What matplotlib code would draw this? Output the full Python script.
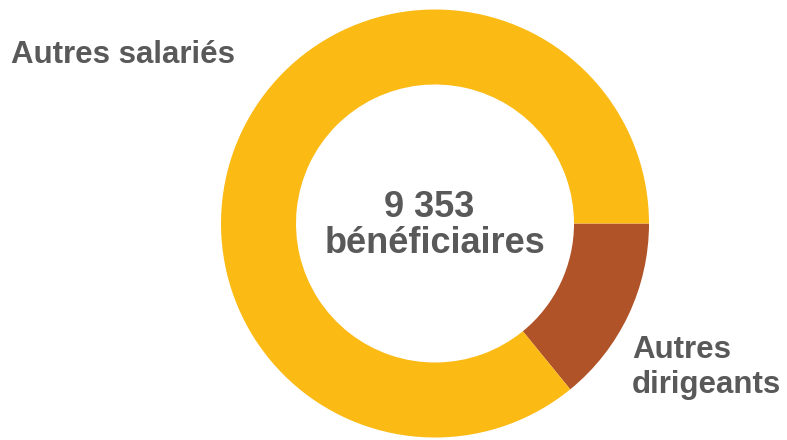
import matplotlib.pyplot as plt

# Data
labels = ['Autres dirigeants', 'Autres salariés']
values = [1320, 8033]
total_value = '9 353'
total_unit = 'bénéficiaires'
colors = ['#B05328', '#FBBA14']

plt.rcParams['font.family'] = ['Liberation Sans', 'DejaVu Sans']
text_color = '#595959'

fig = plt.figure(figsize=(7.87, 4.40), dpi=100)
ax = fig.add_axes([0, 0, 1, 1])

cx, cy, r = 435, 216.5, 214
ax.pie(values, colors=colors, startangle=0, counterclock=False,
       center=(cx, cy), radius=r, frame=True,
       wedgeprops=dict(width=75, edgecolor='none'))
ax.set_xlim(0, 787)
ax.set_ylim(0, 440)
ax.set_aspect('equal')
ax.axis('off')

# centre label
ax.text(429, 223, total_value, ha='center', va='baseline', fontsize=26,
        fontweight='bold', color=text_color)
ax.text(435, 187, total_unit, ha='center', va='baseline', fontsize=26,
        fontweight='bold', color=text_color)

# slice labels
ax.text(11, 377, labels[1], ha='left', va='baseline', fontsize=22.5,
        fontweight='bold', color=text_color)
ax.text(632, 82, 'Autres', ha='left', va='baseline', fontsize=22.5,
        fontweight='bold', color=text_color)
ax.text(632, 47, 'dirigeants', ha='left', va='baseline', fontsize=22.5,
        fontweight='bold', color=text_color)

fig.savefig('out.png', dpi=100)
